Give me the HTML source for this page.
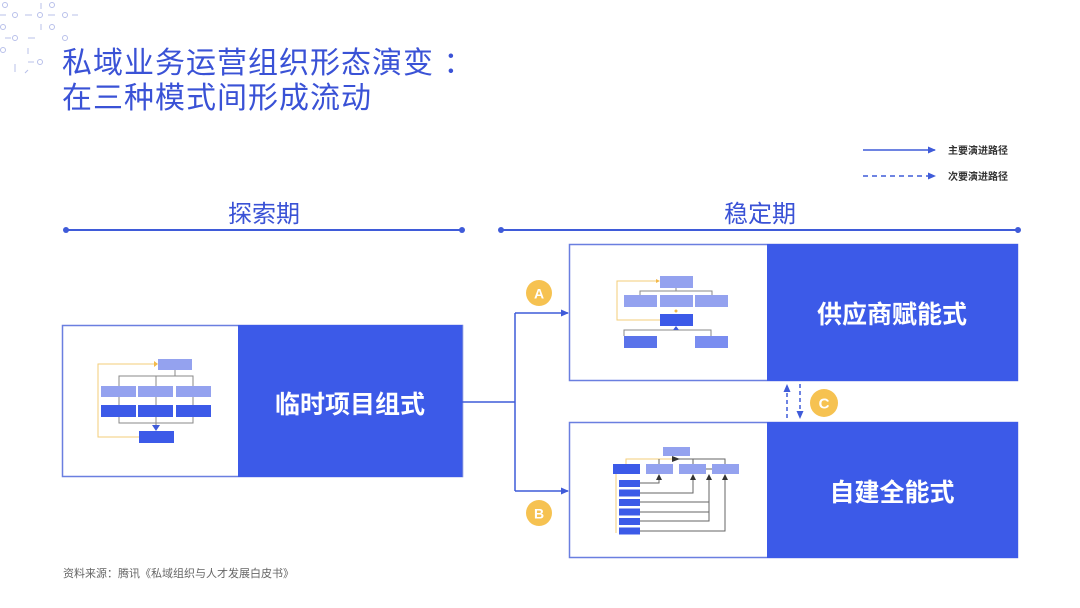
<!DOCTYPE html>
<html><head><meta charset="utf-8"><style>
html,body{margin:0;padding:0;background:#fff;}
svg{display:block;}
text{font-family:"Liberation Sans","Noto Sans CJK SC",sans-serif;}
</style></head><body>
<svg width="1080" height="608" viewBox="0 0 1080 608" xmlns="http://www.w3.org/2000/svg">
<defs>
<marker id="ab" markerWidth="8" markerHeight="8" refX="7" refY="4" orient="auto" markerUnits="userSpaceOnUse"><path d="M0,0.5 L8,4 L0,7.5z" fill="#3f5bd9"/></marker>
</defs>
<!-- decor dots -->
<g stroke="#b8c0ea" fill="none" stroke-width="1">
<circle cx="5" cy="5" r="2.5"/><circle cx="52" cy="5" r="2.5"/>
<circle cx="15" cy="15" r="2.5"/><circle cx="40" cy="15" r="2.5"/><circle cx="65" cy="15" r="2.5"/>
<circle cx="3" cy="27" r="2.5"/><circle cx="52" cy="27" r="2.5"/>
<circle cx="15" cy="38" r="2.5"/><circle cx="65" cy="38" r="2.5"/>
<circle cx="3" cy="50" r="2.5"/><circle cx="40" cy="62" r="2.5"/>
<path d="M0,15 h6 M25,15 h7 M48,15 h7 M72,15 h6 M28,38 h7 M5,38 h6 M28,62 h6 M41,3 v6 M41,24 v6 M28,48 v6 M15,64 v8 M28,70 l-3,3"/>
</g>
<!-- title -->
<text x="62" y="73" font-size="30" fill="#3a52d6" letter-spacing="1">私域业务运营组织形态演变 ：</text>
<text x="62" y="108" font-size="30" fill="#3a52d6" letter-spacing="1">在三种模式间形成流动</text>
<!-- legend -->
<line x1="863" y1="150" x2="935" y2="150" stroke="#3f5bd9" stroke-width="1.5" marker-end="url(#ab)"/>
<line x1="863" y1="176" x2="935" y2="176" stroke="#3f5bd9" stroke-width="1.5" stroke-dasharray="5,4" marker-end="url(#ab)"/>
<text x="948" y="154" font-size="10" font-weight="bold" fill="#333">主要演进路径</text>
<text x="948" y="180" font-size="10" font-weight="bold" fill="#333">次要演进路径</text>
<!-- headers -->
<text x="264" y="222" font-size="24" fill="#3a52d6" text-anchor="middle">探索期</text>
<text x="760" y="222" font-size="24" fill="#3a52d6" text-anchor="middle">稳定期</text>
<line x1="66" y1="230" x2="462" y2="230" stroke="#3f5bd9" stroke-width="2"/>
<circle cx="66" cy="230" r="3" fill="#3f5bd9"/><circle cx="462" cy="230" r="3" fill="#3f5bd9"/>
<line x1="501" y1="230" x2="1018" y2="230" stroke="#3f5bd9" stroke-width="2"/>
<circle cx="501" cy="230" r="3" fill="#3f5bd9"/><circle cx="1018" cy="230" r="3" fill="#3f5bd9"/>
<!-- left box -->
<rect x="62.5" y="325.5" width="400" height="151" fill="#fff" stroke="#6a7fe0" stroke-width="1.5"/>
<rect x="238" y="325" width="224" height="152" fill="#3c5ae8"/>
<text x="350" y="413" font-size="25" font-weight="bold" fill="#fff" text-anchor="middle">临时项目组式</text>
<!-- left diagram -->
<g stroke="#888" stroke-width="1" fill="none">
<path d="M175,369 v7 M119,386 v-10 h74 v10 M156,376 v10 M119,396 v9 M156,396 v9 M193,396 v9 M119,417 v6 h74 v-6 M156,417 v12"/>
</g>
<path d="M139,437 H98 V364 H154" stroke="#f3cd7a" stroke-width="1" fill="none"/>
<path d="M154,361 L158,364 L154,367z" fill="#f3b94a"/>
<path d="M152,425 L160,425 L156,431z" fill="#3f5bd9"/>
<rect x="158" y="359" width="34" height="11" fill="#94a2ef"/>
<rect x="101" y="386" width="35" height="11" fill="#94a2ef"/>
<rect x="138" y="386" width="35" height="11" fill="#94a2ef"/>
<rect x="176" y="386" width="35" height="11" fill="#94a2ef"/>
<rect x="101" y="405" width="35" height="12" fill="#3c5ae8"/>
<rect x="138" y="405" width="35" height="12" fill="#3c5ae8"/>
<rect x="176" y="405" width="35" height="12" fill="#3c5ae8"/>
<rect x="139" y="431" width="35" height="12" fill="#3c5ae8"/>
<!-- connectors -->
<path d="M462,402 H515 M515,313 V491" stroke="#3f5bd9" stroke-width="1.5" fill="none"/>
<line x1="515" y1="313" x2="568" y2="313" stroke="#3f5bd9" stroke-width="1.5" marker-end="url(#ab)"/>
<line x1="515" y1="491" x2="568" y2="491" stroke="#3f5bd9" stroke-width="1.5" marker-end="url(#ab)"/>
<circle cx="539" cy="293" r="13" fill="#f6c251"/><text x="539" y="298.5" font-size="14" font-weight="bold" fill="#fff" text-anchor="middle">A</text>
<circle cx="539" cy="513" r="13" fill="#f6c251"/><text x="539" y="518.5" font-size="14" font-weight="bold" fill="#fff" text-anchor="middle">B</text>
<circle cx="824" cy="403" r="14" fill="#f6c251"/><text x="824" y="408.5" font-size="15" font-weight="bold" fill="#fff" text-anchor="middle">C</text>
<line x1="787" y1="418" x2="787" y2="385" stroke="#3f5bd9" stroke-width="1.5" stroke-dasharray="4,3" marker-end="url(#ab)"/>
<line x1="800" y1="384" x2="800" y2="418" stroke="#3f5bd9" stroke-width="1.5" stroke-dasharray="4,3" marker-end="url(#ab)"/>
<!-- upper box -->
<rect x="569.5" y="244.5" width="448" height="136" fill="#fff" stroke="#6a7fe0" stroke-width="1.5"/>
<rect x="767" y="244" width="251" height="137" fill="#3c5ae8"/>
<text x="892" y="323" font-size="25" font-weight="bold" fill="#fff" text-anchor="middle">供应商赋能式</text>
<g stroke="#888" stroke-width="1" fill="none">
<path d="M676,288 v3 M640,295 v-4 h72 v4 M624,336 v-6 h87 v6"/>
</g>
<path d="M660,320 H617 V281 H656" stroke="#f3cd7a" stroke-width="1" fill="none"/>
<path d="M656,279 L660,281 L656,283z" fill="#f3b94a"/>
<circle cx="676" cy="311" r="1.5" fill="#f3b94a"/>
<path d="M673,330 L679,330 L676,326z" fill="#3f5bd9"/>
<rect x="660" y="276" width="33" height="12" fill="#94a2ef"/>
<rect x="624" y="295" width="33" height="12" fill="#94a2ef"/>
<rect x="660" y="295" width="33" height="12" fill="#94a2ef"/>
<rect x="695" y="295" width="33" height="12" fill="#94a2ef"/>
<rect x="660" y="314" width="33" height="12" fill="#3c5ae8"/>
<rect x="624" y="336" width="33" height="12" fill="#5a73ea"/>
<rect x="695" y="336" width="33" height="12" fill="#7a8df0"/>
<!-- lower box -->
<rect x="569.5" y="422.5" width="448" height="135" fill="#fff" stroke="#6a7fe0" stroke-width="1.5"/>
<rect x="767" y="422" width="251" height="136" fill="#3c5ae8"/>
<text x="892" y="501" font-size="25" font-weight="bold" fill="#fff" text-anchor="middle">自建全能式</text>
<path d="M626,464 v-5 H676 M616,474 V533" stroke="#f3cd7a" stroke-width="1" fill="none"/>
<g stroke="#666" stroke-width="1" fill="none">
<path d="M676,459 H725 V464 M659,464 V459 M693,464 V459"/>
<path d="M640,483 H659 V477"/>
<path d="M640,493 H693 V477"/>
<path d="M640,502 H709 V477"/>
<path d="M640,512 H709"/>
<path d="M640,521 H709 V477"/>
<path d="M640,531 H725 V477"/>
<path d="M706,469 h6"/>
</g>
<path d="M672,456 L680,459 L672,462z" fill="#333"/>
<g fill="#333"><path d="M656,480 L662,480 L659,474z"/><path d="M690,480 L696,480 L693,474z"/><path d="M706,480 L712,480 L709,474z"/><path d="M722,480 L728,480 L725,474z"/></g>
<rect x="663" y="447" width="27" height="9" fill="#94a2ef"/>
<rect x="613" y="464" width="27" height="10" fill="#3c5ae8"/>
<rect x="646" y="464" width="27" height="10" fill="#94a2ef"/>
<rect x="679" y="464" width="27" height="10" fill="#94a2ef"/>
<rect x="712" y="464" width="27" height="10" fill="#94a2ef"/>
<g fill="#3c5ae8">
<rect x="619" y="480" width="21" height="7"/><rect x="619" y="489.5" width="21" height="7"/><rect x="619" y="499" width="21" height="7"/>
<rect x="619" y="508.5" width="21" height="7"/><rect x="619" y="518" width="21" height="7"/><rect x="619" y="527.5" width="21" height="7"/>
</g>
<!-- source -->
<text x="63" y="577" font-size="11" fill="#666">资料来源：腾讯《私域组织与人才发展白皮书》</text>
</svg>
</body></html>
